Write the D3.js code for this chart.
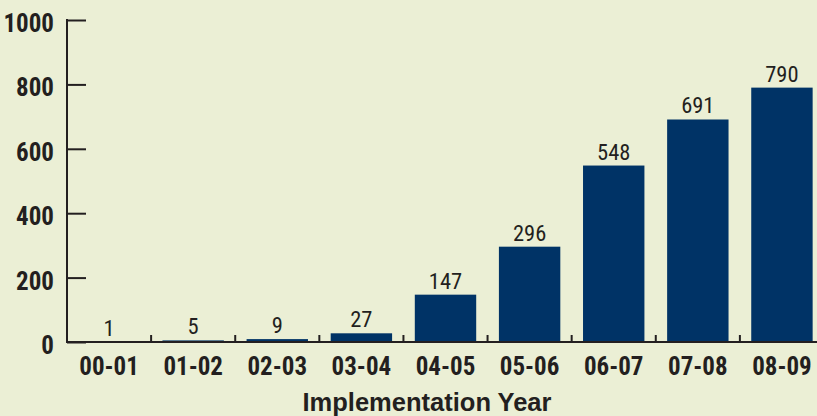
<!DOCTYPE html>
<html><head><meta charset="utf-8">
<script src="https://cdn.jsdelivr.net/npm/d3@7"></script>
<style>
html,body{margin:0;padding:0;background:#ebefd5;}
svg{display:block;}
</style></head>
<body>
<script>
const categories = ["00-01","01-02","02-03","03-04","04-05","05-06","06-07","07-08","08-09"];
const values = [1,5,9,27,147,296,548,691,790];
const yTicks = [0,200,400,600,800,1000];
const xTitle = "Implementation Year";

const W = 817, H = 416;
const svg = d3.select("body").append("svg").attr("width", W).attr("height", H);
svg.append("rect").attr("width", W).attr("height", H).attr("fill", "#ebefd5");

const axisX = 67, y0 = 342, y1 = 20;
const x = d3.scaleBand().domain(categories).range([axisX, 824]).paddingInner(0.27).paddingOuter(0.135);
const y = d3.scaleLinear().domain([0, 1000]).range([y0, y1]);
const ink = "#231f20";
const condensed = "'Liberation Sans Narrow','Roboto Condensed','Arial Narrow',sans-serif";

// bars
svg.selectAll("rect.bar").data(values).join("rect")
  .attr("class","bar")
  .attr("x", (d,i) => x(categories[i]))
  .attr("width", x.bandwidth())
  .attr("y", d => y(d))
  .attr("height", d => Math.max(0, y0 - y(d)))
  .attr("fill", "#003366");

// value labels
svg.selectAll("text.val").data(values).join("text")
  .attr("class","val")
  .attr("x", (d,i) => x(categories[i]) + x.bandwidth()/2)
  .attr("y", d => y(d) - 6)
  .attr("text-anchor","middle")
  .attr("font-family", condensed)
  .attr("font-size", 22.5)
  .attr("fill", ink)
  .text(d => d);

// y axis
const yAxis = d3.axisRight(y).tickValues(yTicks).tickSize(19).tickFormat("");
const gy = svg.append("g").attr("transform", `translate(${axisX},0)`).call(yAxis);
gy.select(".domain").remove();
gy.selectAll(".tick line").attr("stroke", ink).attr("stroke-width", 2);
svg.append("line").attr("x1", axisX).attr("x2", axisX).attr("y1", y1 - 1).attr("y2", y0 + 1)
  .attr("stroke", ink).attr("stroke-width", 2);
svg.selectAll("text.ytl").data(yTicks).join("text")
  .attr("class","ytl")
  .attr("x", 54)
  .attr("y", d => y(d) + 12)
  .attr("text-anchor","end")
  .attr("font-family", condensed)
  .attr("font-weight","bold")
  .attr("font-size", 25)
  .attr("fill", ink)
  .text(d => d);

// x axis
svg.append("line").attr("x1", axisX - 1).attr("x2", W).attr("y1", y0).attr("y2", y0)
  .attr("stroke", ink).attr("stroke-width", 2);
const step = x.step();
const boundaries = categories.slice(0, -1).map(c => x(c) + x.bandwidth() + step * x.paddingInner() / 2);
svg.selectAll("line.xt").data(boundaries).join("line")
  .attr("class","xt")
  .attr("x1", d => d).attr("x2", d => d)
  .attr("y1", y0).attr("y2", y0 - 7)
  .attr("stroke", ink).attr("stroke-width", 2);
svg.selectAll("text.xtl").data(categories).join("text")
  .attr("class","xtl")
  .attr("x", d => x(d) + x.bandwidth()/2)
  .attr("y", 375)
  .attr("text-anchor","middle")
  .attr("font-family", condensed)
  .attr("font-weight","bold")
  .attr("font-size", 25)
  .attr("fill", ink)
  .text(d => d);

svg.append("text")
  .attr("x", 427).attr("y", 411)
  .attr("text-anchor","middle")
  .attr("font-family","'Liberation Sans',Arial,sans-serif")
  .attr("font-weight","bold")
  .attr("font-size", 25.5)
  .attr("fill", ink)
  .text(xTitle);
</script>
</body></html>
